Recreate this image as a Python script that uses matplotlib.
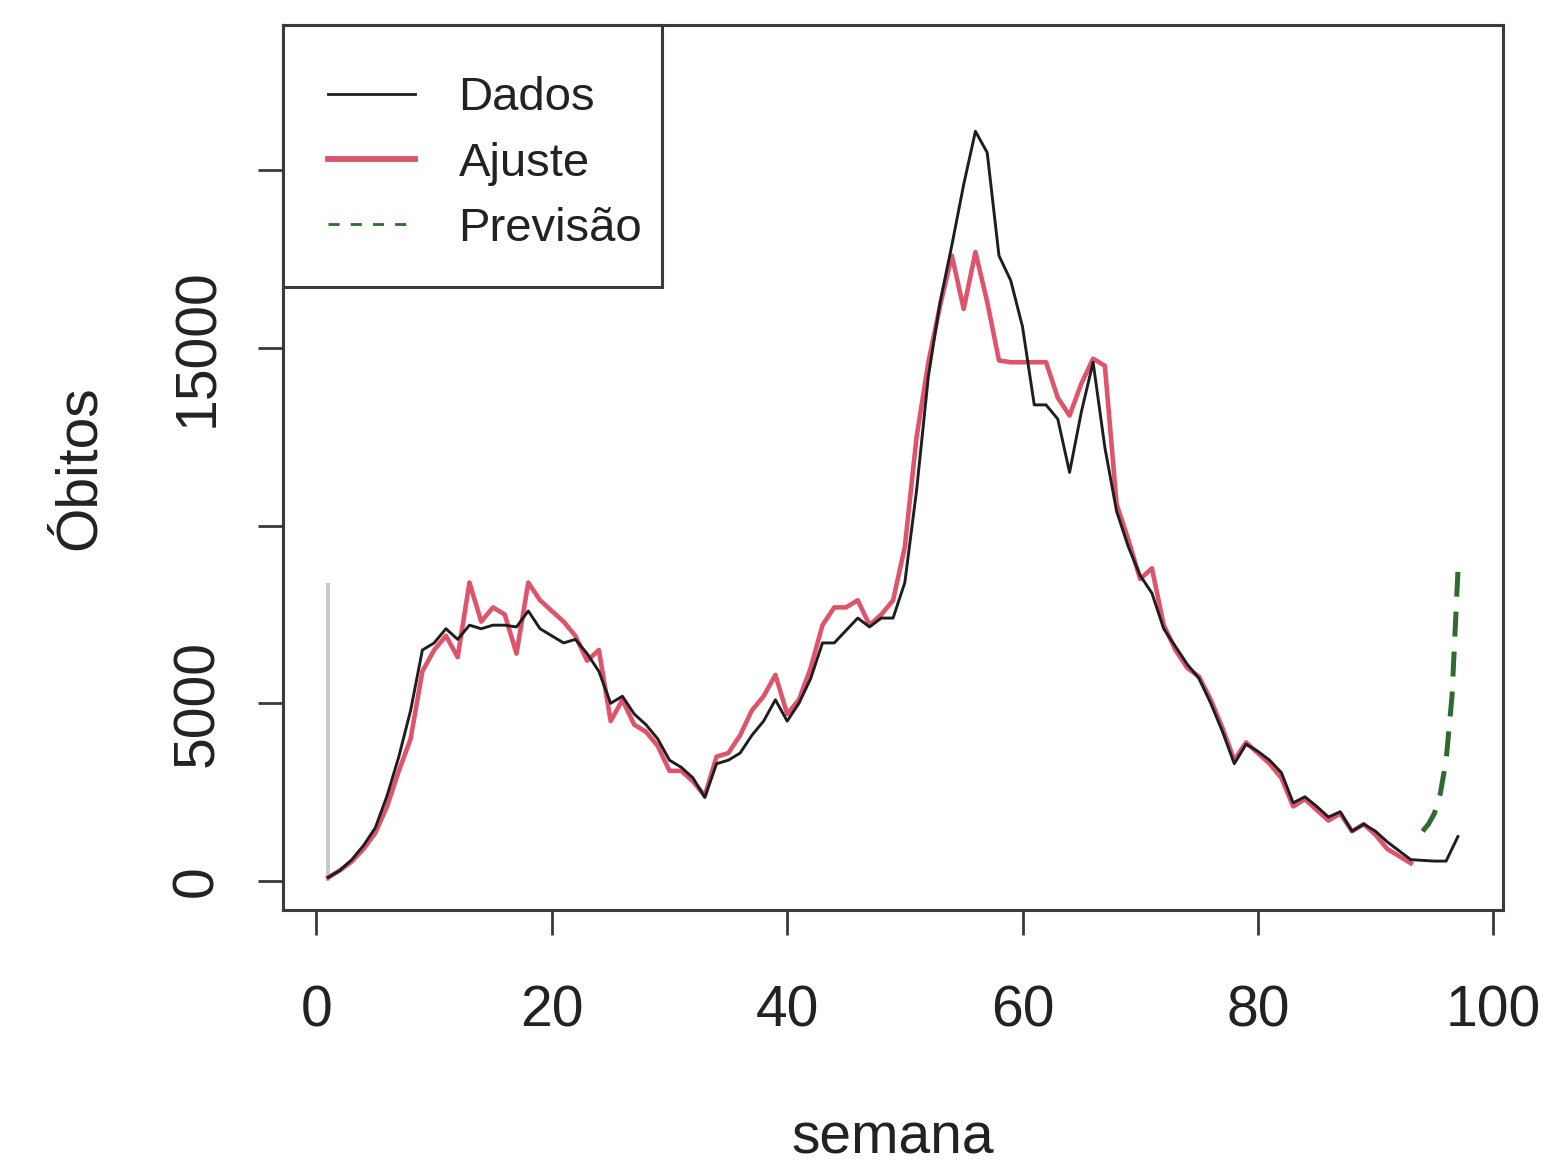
import matplotlib

matplotlib.use("Agg")
import matplotlib.pyplot as plt  # noqa: E402
from matplotlib.lines import Line2D  # noqa: E402
from matplotlib.patches import Rectangle  # noqa: E402

plt.rcParams["font.family"] = ["Liberation Sans", "DejaVu Sans"]

# weekly deaths (observed), weeks 1..97
dados = [
    100, 300, 600, 1000, 1500, 2400, 3500, 4800, 6500, 6700,
    7100, 6800, 7200, 7100, 7200, 7200, 7150, 7600, 7100, 6900,
    6700, 6800, 6400, 5900, 5000, 5200, 4700, 4400, 4000, 3400,
    3200, 2900, 2350, 3300, 3400, 3600, 4100, 4500, 5100, 4500,
    5000, 5700, 6700, 6700, 7050, 7400, 7150, 7400, 7400, 8400,
    11000, 14200, 16300, 17900, 19600, 21100, 20500, 17600, 16900, 15600,
    13400, 13400, 13000, 11500, 13200, 14600, 12200, 10400, 9400, 8600,
    8100, 7100, 6600, 6100, 5700, 5000, 4200, 3300, 3850, 3650,
    3400, 3050, 2200, 2370, 2100, 1800, 1950, 1400, 1600, 1400,
    1100, 850, 600, 580, 560, 560, 1250,
]
semana_dados = list(range(1, len(dados) + 1))

# fitted values, weeks 1..93
ajuste = [
    100, 300, 550, 900, 1350, 2100, 3100, 4000, 5900, 6500,
    6900, 6300, 8400, 7300, 7700, 7500, 6400, 8400, 7900, 7600,
    7300, 6900, 6200, 6500, 4500, 5100, 4400, 4200, 3800, 3100,
    3100, 2800, 2400, 3500, 3600, 4100, 4800, 5200, 5800, 4700,
    5100, 6000, 7200, 7700, 7700, 7900, 7200, 7500, 7900, 9400,
    12500, 14600, 16200, 17600, 16100, 17700, 16300, 14650, 14600, 14600,
    14600, 14600, 13600, 13100, 14000, 14700, 14500, 10600, 9600, 8500,
    8800, 7200, 6500, 6000, 5750, 5100, 4300, 3400, 3900, 3600,
    3300, 2900, 2100, 2300, 2000, 1700, 1900, 1400, 1600, 1300,
    900, 700, 500,
]
semana_ajuste = list(range(1, len(ajuste) + 1))

# forecast
semana_prev = [94, 94.5, 95, 95.5, 96, 96.5, 97]
previsao = [1400, 1600, 1900, 2450, 3400, 5200, 8700]

# spike at the first week
semana_barra = 1
altura_barra = 8400

box_col = "#3a3a3a"
txt_col = "#222222"

fig = plt.figure(figsize=(15.51, 11.71), dpi=100)
ax = fig.add_axes([0.1825, 0.2229, 0.7866, 0.7557])

ax.vlines(semana_barra, 0, altura_barra, color="#c8c8c8", lw=2.8, zorder=1)
ax.plot(semana_dados, dados, color="#1e1e1e", lw=2.1, zorder=3)
ax.plot(semana_ajuste, ajuste, color="#DF536B", lw=3.3, zorder=2)
ax.plot(semana_prev, previsao, color="#2e6b2e", lw=3.6, ls=(0, (5, 3)), zorder=2)

ax.set_xlim(-2.84, 100.84)
ax.set_ylim(-816, 24090)

ax.set_xticks([0, 20, 40, 60, 80, 100])
ax.set_yticks([0, 5000, 10000, 15000, 20000])
ax.set_yticklabels(["0", "5000", "", "15000", ""])

for s in ax.spines.values():
    s.set_color(box_col)
    s.set_linewidth(2.2)

ax.tick_params(axis="both", length=18, width=2.0, color=box_col,
               labelsize=41, labelcolor=txt_col)
ax.tick_params(axis="x", pad=36)
ax.tick_params(axis="y", pad=24, labelrotation=90)
for lab in ax.get_yticklabels():
    lab.set_va("center")
    lab.set_ha("right")

ax.set_xlabel("semana", fontsize=41, color=txt_col, labelpad=52)
ax.set_ylabel("Óbitos", fontsize=41, color=txt_col, labelpad=46)

# legend box drawn by hand so the padding can be uneven
ax.add_patch(Rectangle((0, 1 - 0.296), 0.3107, 0.296, transform=ax.transAxes,
                       fill=True, facecolor="white", edgecolor=box_col,
                       lw=2.2, zorder=5, clip_on=False))
handles = [
    Line2D([], [], color="#1e1e1e", lw=2.0),
    Line2D([], [], color="#DF536B", lw=4.2),
    Line2D([], [], color="#2e6b2e", lw=2.0, ls=(0, (4, 4))),
]
leg = ax.legend(handles, ["Dados", "Ajuste", "Previsão"], loc="upper left",
                bbox_to_anchor=(0.0369, 0.942), borderaxespad=0, borderpad=0,
                fontsize=34, frameon=False, handlelength=1.85,
                handletextpad=0.91, labelspacing=0.45)
leg.set_zorder(6)
for t in leg.get_texts():
    t.set_color(txt_col)

fig.savefig("out.png", dpi=100)
plt.close(fig)
